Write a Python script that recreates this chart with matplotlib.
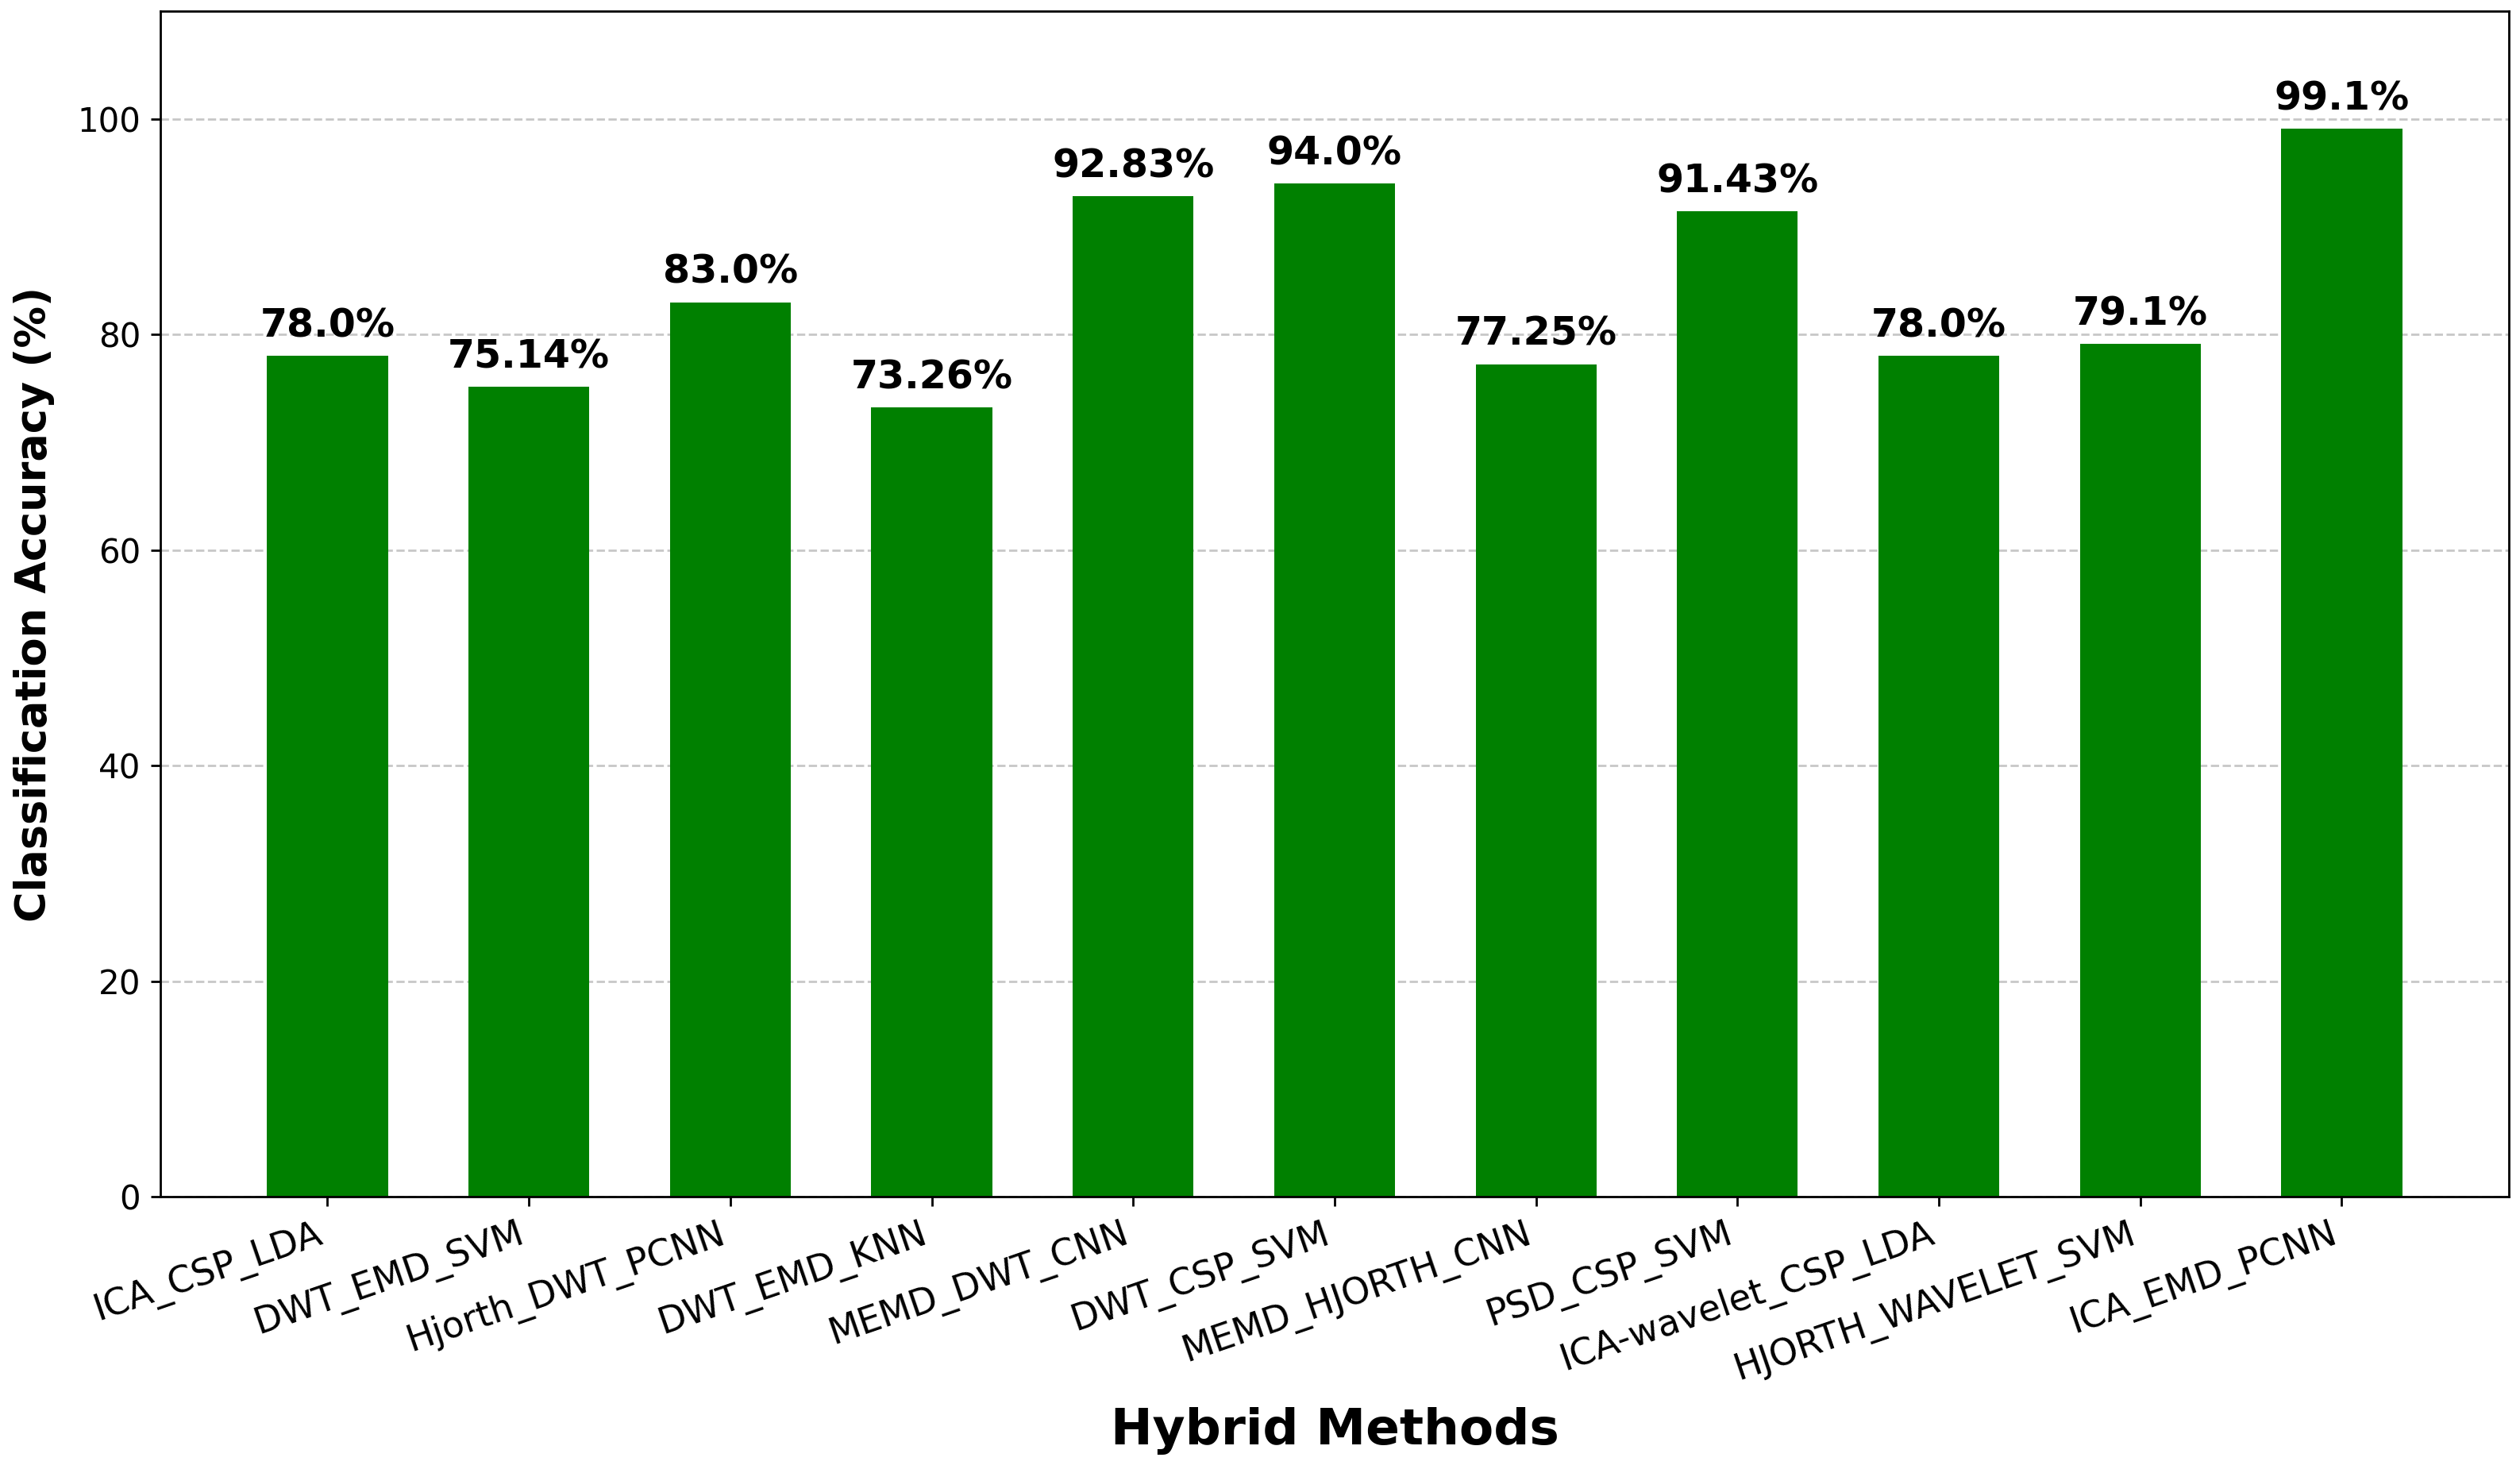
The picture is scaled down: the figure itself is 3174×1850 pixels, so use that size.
import matplotlib
matplotlib.use("Agg")
import matplotlib.pyplot as plt

# Hybrid methods and their classification accuracy
methods = [
    "ICA_CSP_LDA", "DWT_EMD_SVM", "Hjorth_DWT_PCNN", "DWT_EMD_KNN",
    "MEMD_DWT_CNN", "DWT_CSP_SVM", "MEMD_HJORTH_CNN", "PSD_CSP_SVM",
    "ICA-wavelet_CSP_LDA", "HJORTH_WAVELET_SVM", "ICA_EMD_PCNN",
]
accuracy = [78.0, 75.14, 83.0, 73.26, 92.83, 94.0, 77.25, 91.43, 78.0, 79.1, 99.1]
labels = ["78.0%", "75.14%", "83.0%", "73.26%", "92.83%", "94.0%",
          "77.25%", "91.43%", "78.0%", "79.1%", "99.1%"]

DPI = 252
fig, ax = plt.subplots(figsize=(3174 / DPI, 1850 / DPI))

bars = ax.bar(methods, accuracy, color="green", width=0.6)

# value labels on top of bars
for b, lab in zip(bars, labels):
    ax.text(b.get_x() + b.get_width() / 2, b.get_height() + 1, lab,
            ha="center", va="bottom", fontsize=14, fontweight="bold")

ax.set_ylim(0, 110)
ax.set_xlabel("Hybrid Methods", fontsize=18, fontweight="bold", labelpad=7)
ax.set_ylabel("Classification Accuracy (%)", fontsize=15, fontweight="bold",
              labelpad=8)
ax.tick_params(axis="y", labelsize=12)
ax.tick_params(axis="x", labelsize=13)
plt.setp(ax.get_xticklabels(), rotation=19, ha="right")
ax.grid(axis="y", linestyle="--", alpha=0.7)
ax.set_axisbelow(True)

fig.subplots_adjust(left=0.0636, right=0.9956, top=0.9924, bottom=0.1854)
plt.savefig("out.png", dpi=DPI)
